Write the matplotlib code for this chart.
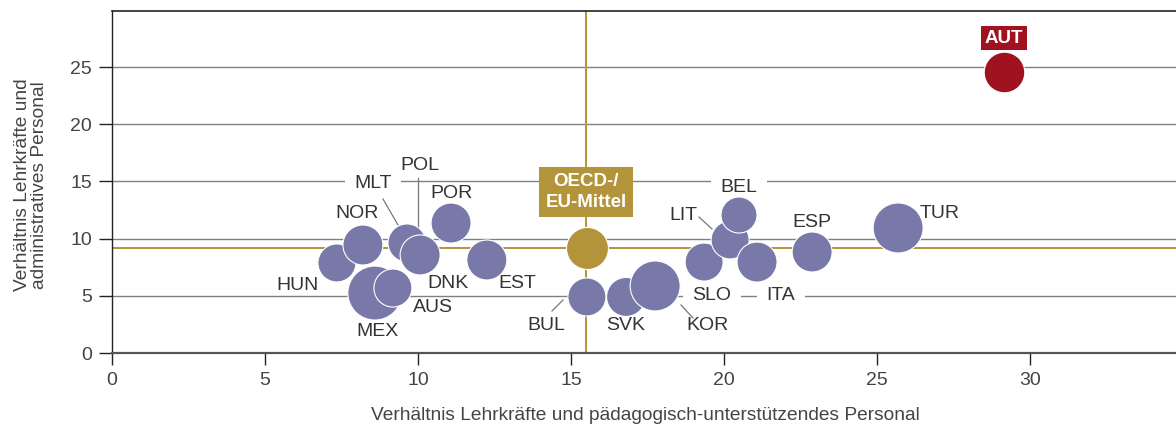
import matplotlib
matplotlib.use("Agg")
import matplotlib.pyplot as plt

plt.rcParams['font.family'] = ['Liberation Sans', 'DejaVu Sans']

# --- data ---
countries = ["HUN", "NOR", "MEX", "AUS", "MLT", "DNK", "POR", "EST",
             "BUL", "SVK", "KOR", "SLO", "LIT", "BEL", "ITA", "ESP", "TUR"]
x_paed = [7.35, 8.20, 8.59, 9.18, 9.64, 10.07, 11.08, 12.25,
          15.52, 16.80, 17.75, 19.35, 20.20, 20.49, 21.08, 22.88, 25.69]
y_admin = [7.87, 9.44, 5.24, 5.68, 9.62, 8.57, 11.36, 8.13,
           4.90, 4.90, 5.86, 7.95, 9.88, 12.06, 7.95, 8.83, 10.93]
bubble = [19, 20, 27, 19, 19, 20, 20, 20,
          19, 19.5, 25, 19, 19, 18, 20, 20, 25]

oecd_x, oecd_y, oecd_b = 15.52, 9.2, 21
aut_x, aut_y, aut_b = 29.15, 24.56, 20.3
mean_x, mean_y = 15.5, 9.15

xticks = [0, 5, 10, 15, 20, 25, 30]
yticks = [0, 5, 10, 15, 20, 25]
xlabel = "Verhältnis Lehrkräfte und pädagogisch-unterstützendes Personal"
ylabel = "Verhältnis Lehrkräfte und\nadministratives Personal"

# --- styles ---
PURPLE = "#7878a9"
GOLD = "#b3943a"
RED = "#a0121d"
TXT = "#333333"
GRID = "#808080"

W, H = 1176, 428
fig = plt.figure(figsize=(W / 100, H / 100), dpi=100)
ax = fig.add_axes([112 / W, 1 - 353 / H, (W - 112) / W, (353 - 11) / H])
ax.set_xlim(0, (W - 112) / 30.6)
ax.set_ylim(0, (353 - 11) / 11.44)


def area(r):
    return (2 * r * 0.72) ** 2


# gridlines
for yv in yticks[1:]:
    ax.axhline(yv, color=GRID, lw=1.0, zorder=1)

# mean lines
ax.axvline(mean_x, color=GOLD, lw=1.4, zorder=1.5)
ax.axhline(mean_y, color=GOLD, lw=1.4, zorder=1.5)

ax.scatter(x_paed, y_admin, s=[area(b) for b in bubble], c=PURPLE,
           edgecolors="white", linewidths=0.8, zorder=3)
ax.scatter([oecd_x], [oecd_y], s=[area(oecd_b)], c=GOLD,
           edgecolors="white", linewidths=0.8, zorder=3)
ax.scatter([aut_x], [aut_y], s=[area(aut_b)], c=RED,
           edgecolors="white", linewidths=0.8, zorder=3)


def px(xp):
    return (xp - 112) / 30.6


def py(yp):
    return (353 - yp) / 11.44


label_pos = {
    "HUN": (298, 285), "NOR": (357, 213), "MEX": (378, 332), "AUS": (433, 307),
    "MLT": (373, 183), "DNK": (448, 283), "POR": (451, 193), "EST": (517, 283),
    "BUL": (546, 325), "SVK": (626, 325), "KOR": (707, 325), "SLO": (712, 296),
    "LIT": (683, 216), "BEL": (739, 187), "ITA": (781, 296), "ESP": (812, 222),
    "TUR": (940, 214),
}
boxed = {"MLT", "BEL", "SLO", "ITA"}
for c in countries:
    lx, ly = label_pos[c]
    kw = {}
    if c in boxed:
        kw["bbox"] = dict(boxstyle="square,pad=0.5", fc="white", ec="none")
    ax.text(px(lx), py(ly), c, ha="center", va="center", fontsize=14,
            color=TXT, zorder=2.5, **kw)

ax.text(px(420), py(165), "POL", ha="center", va="center", fontsize=14,
        color=TXT, zorder=2.5)

# leader lines
leaders = [((383, 199), (398, 225)), ((418, 178), (418, 230)),
           ((552, 311), (563, 300)), ((681, 305), (693, 318)),
           ((699, 217), (712, 229))]
for (x0, y0), (x1, y1) in leaders:
    ax.plot([px(x0), px(x1)], [py(y0), py(y1)], color="#777777", lw=0.9,
            zorder=2.6)

# OECD label box
ax.text(px(586), py(192), "OECD-/\nEU-Mittel", ha="center", va="center",
        fontsize=13.5, fontweight="bold", color="white", linespacing=1.3,
        zorder=4, bbox=dict(boxstyle="square,pad=0.33", fc=GOLD, ec="none"))
ax.text(px(1004), py(38), "AUT", ha="center", va="center", fontsize=13.5,
        fontweight="bold", color="white", zorder=4,
        bbox=dict(boxstyle="square,pad=0.2", fc=RED, ec="none"))

# axes styling
ax.spines["right"].set_visible(False)
ax.spines["left"].set_color("#222222")
ax.spines["top"].set_color("#222222")
ax.spines["bottom"].set_color("#555555")
ax.spines["bottom"].set_linewidth(1.6)
ax.spines["left"].set_linewidth(1.0)
ax.spines["top"].set_linewidth(1.2)
ax.set_xticks(xticks)
ax.set_yticks(yticks)
ax.tick_params(axis="both", direction="out", width=1.0,
               color="#222222", labelsize=14, labelcolor="#444444")
ax.tick_params(axis="x", length=8.6, pad=5)
ax.tick_params(axis="y", length=9.4, pad=5)

fig.text(645 / W, 1 - 415 / H, xlabel, ha="center", va="center",
         fontsize=13.8, color="#444444")
fig.text(31 / W, 1 - 185 / H, ylabel, ha="center", va="center",
         rotation=90, fontsize=13.8, color="#444444", multialignment="center",
         linespacing=1.0)

fig.savefig("out.png", dpi=100)
